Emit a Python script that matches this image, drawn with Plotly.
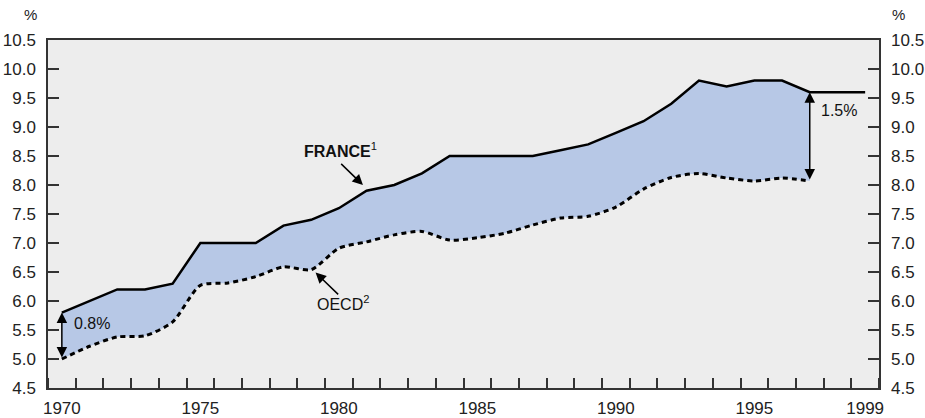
import plotly.graph_objects as go

years = list(range(1970, 2000))
france = [5.8, 6.0, 6.2, 6.2, 6.3, 7.0, 7.0, 7.0, 7.3, 7.4,
          7.6, 7.9, 8.0, 8.2, 8.5, 8.5, 8.5, 8.5, 8.6, 8.7,
          8.9, 9.1, 9.4, 9.8, 9.7, 9.8, 9.8, 9.6, 9.6, 9.6]
oecd_years = list(range(1970, 1998))
oecd = [5.0, 5.22, 5.38, 5.4, 5.64, 6.27, 6.31, 6.42, 6.59, 6.54,
        6.91, 7.02, 7.14, 7.2, 7.05, 7.09, 7.17, 7.31, 7.43, 7.46,
        7.62, 7.93, 8.13, 8.2, 8.12, 8.07, 8.12, 8.07]
xtick_vals = [1970, 1975, 1980, 1985, 1990, 1995, 1999]
xtick_text = ["1970", "1975", "1980", "1985", "1990", "1995", "1999"]
ytick_vals = [4.5, 5.0, 5.5, 6.0, 6.5, 7.0, 7.5, 8.0, 8.5, 9.0, 9.5, 10.0, 10.5]

FONT = "Liberation Sans, Arial, sans-serif"
AX_FONT = dict(family=FONT, size=17, color="#222222")
AN_FONT = dict(family=FONT, size=16, color="#111111")

fig = go.Figure()
# fill band between OECD (smoothed) and France, 1970-1997
fig.add_trace(go.Scatter(x=oecd_years, y=oecd, mode="lines",
                         line=dict(width=0, shape="spline", smoothing=0.7),
                         hoverinfo="skip", showlegend=False))
fig.add_trace(go.Scatter(x=oecd_years, y=france[:len(oecd_years)], mode="lines",
                         line=dict(width=0), fill="tonexty", fillcolor="#b7c8e6",
                         hoverinfo="skip", showlegend=False))
# lines
fig.add_trace(go.Scatter(x=oecd_years, y=oecd, mode="lines",
                         line=dict(color="#000000", width=3, dash="5px,4px",
                                   shape="spline", smoothing=0.7),
                         showlegend=False))
fig.add_trace(go.Scatter(x=years, y=france, mode="lines",
                         line=dict(color="#000000", width=2.5),
                         showlegend=False))
# invisible trace for the right axis
fig.add_trace(go.Scatter(x=years, y=france, yaxis="y2", mode="lines",
                         line=dict(width=0), opacity=0,
                         hoverinfo="skip", showlegend=False))

ARW = dict(showarrow=True, arrowhead=2, arrowsize=1.4, arrowwidth=1.5,
           arrowcolor="#000000", standoff=0, xref="x", yref="y",
           axref="x", ayref="y", text="")
ann = []
# labels
ann.append(dict(x=1980.05, y=8.6, xref="x", yref="y", text="<b>FRANCE</b><sup>1</sup>",
                showarrow=False, font=AN_FONT))
ann.append(dict(x=1980.15, y=5.96, xref="x", yref="y", text="OECD<sup>2</sup>",
                showarrow=False, font=AN_FONT))
ann.append(dict(x=1971.09, y=5.61, xref="x", yref="y", text="0.8%",
                showarrow=False, font=AN_FONT))
ann.append(dict(x=1998.06, y=9.28, xref="x", yref="y", text="1.5%",
                showarrow=False, font=AN_FONT))
# pointer arrows
ann.append(dict(x=1980.87, y=8.0, ax=1980.03, ay=8.39, **ARW))
ann.append(dict(x=1979.16, y=6.49, ax=1980.03, ay=6.09, **ARW))
# gap arrows (double headed)
ann.append(dict(x=1970, y=france[0], ax=1970, ay=oecd[0], arrowside="end+start",
                startarrowhead=2, startarrowsize=1.4, startstandoff=0, **ARW))
ann.append(dict(x=1997, y=france[27], ax=1997, ay=oecd[27], arrowside="end+start",
                startarrowhead=2, startarrowsize=1.4, startstandoff=0, **ARW))
# % unit labels
ann.append(dict(x=30, y=14, xref="paper", yref="paper", text="%", showarrow=False,
                font=dict(family=FONT, size=15, color="#222222")))
ann.append(dict(x=898, y=14, xref="paper", yref="paper", text="%", showarrow=False,
                font=dict(family=FONT, size=15, color="#222222")))

W, H = 925, 418
ML, MR, MT, MB = 48, 46, 40, 30
pw, ph = W - ML - MR, H - MT - MB
for a in ann:
    if a.get("xref") == "paper":
        a["x"] = (a["x"] - ML) / pw
        a["y"] = 1 - (a["y"] - MT) / ph
        a["xanchor"] = "center"
        a["yanchor"] = "middle"

fig.update_layout(
    width=W, height=H,
    margin=dict(l=ML, r=MR, t=MT, b=MB, pad=0, autoexpand=False),
    paper_bgcolor="#ffffff", plot_bgcolor="#ededed",
    annotations=ann,
    xaxis=dict(range=[1969.5, 1999.5], tickmode="array", tickvals=xtick_vals,
               ticktext=xtick_text, ticks="", showgrid=False, zeroline=False,
               showline=True, mirror=True, linecolor="#333333", linewidth=1.5,
               tickfont=AX_FONT, automargin=False, ticklabelstandoff=4,
               minor=dict(tickmode="linear", tick0=1970.5, dtick=1, ticks="inside",
                          ticklen=10, tickwidth=1.5, tickcolor="#333333", showgrid=False)),
    yaxis=dict(range=[4.5, 10.5], tickmode="array", tickvals=ytick_vals,
               tickformat=".1f", ticks="inside", ticklen=11, tickwidth=1.5,
               tickcolor="#333333", showgrid=False, zeroline=False,
               showline=True, mirror=True, linecolor="#333333", linewidth=1.5,
               tickfont=AX_FONT, automargin=False, ticklabelstandoff=7),
    yaxis2=dict(range=[4.5, 10.5], overlaying="y", side="right", anchor="x",
                tickmode="array", tickvals=ytick_vals, tickformat=".1f",
                ticks="inside", ticklen=11, tickwidth=1.5, tickcolor="#333333",
                showgrid=False, zeroline=False, showline=False,
                tickfont=AX_FONT, automargin=False, ticklabelstandoff=11),
)

fig.write_html("out.html", config={"displayModeBar": False},
               post_script="document.body.style.margin='0';document.body.style.overflow='hidden';")
